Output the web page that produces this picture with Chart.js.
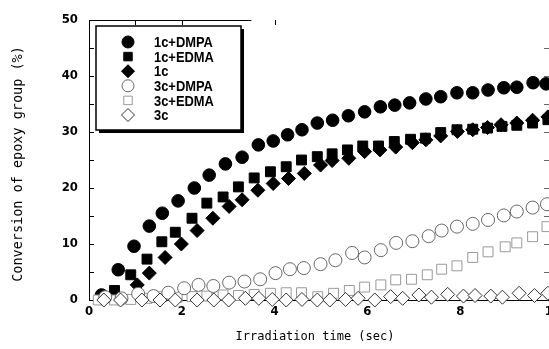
<!DOCTYPE html>
<html>
<head>
<meta charset="utf-8">
<script src="https://cdn.jsdelivr.net/npm/chart.js@4.4.0/dist/chart.umd.min.js"></script>
<style>
html,body{margin:0;padding:0;overflow:hidden;background:#fff;width:549px;height:349px;}
#wrap{position:absolute;left:0;top:0;width:570px;height:349px;}
</style>
</head>
<body>
<div id="wrap"><canvas id="c" width="570" height="349"></canvas></div>
<script>
// ---- data ----
const seriesNames = ["1c+DMPA", "1c+EDMA", "1c", "3c+DMPA", "3c+EDMA", "3c"];
const xTitle = "Irradiation time (sec)";
const yTitle = "Conversion of epoxy group (%)";
const xTicks = [0, 2, 4, 6, 8, 10];
const yTicks = [0, 10, 20, 30, 40, 50];

const time_1cDMPA = [0.27,0.63,0.97,1.30,1.58,1.92,2.27,2.59,2.94,3.30,3.65,3.97,4.28,4.59,4.92,5.25,5.59,5.94,6.28,6.59,6.91,7.26,7.58,7.93,8.27,8.60,8.94,9.22,9.57,9.85];
const conv_1cDMPA = [0.9,5.4,9.6,13.2,15.5,17.7,20.0,22.3,24.3,25.5,27.7,28.4,29.5,30.4,31.6,32.1,32.9,33.6,34.5,34.8,35.2,35.9,36.3,37.0,37.0,37.5,37.9,38.0,38.8,38.6];

const time_1cEDMA = [0.55,0.90,1.25,1.57,1.86,2.22,2.54,2.89,3.22,3.56,3.91,4.25,4.58,4.92,5.24,5.57,5.90,6.24,6.58,6.93,7.25,7.58,7.93,8.27,8.59,8.90,9.22,9.56,9.89];
const conv_1cEDMA = [1.7,4.5,7.3,10.4,12.1,14.6,17.3,18.4,20.2,21.8,22.9,23.8,25.0,25.6,26.1,26.8,27.5,27.5,28.3,28.7,28.9,29.9,30.4,30.5,30.7,31.0,31.2,31.6,32.2];

const time_1c = [1.04,1.30,1.64,1.99,2.33,2.67,3.02,3.30,3.64,3.97,4.30,4.64,4.99,5.24,5.60,5.94,6.27,6.61,6.97,7.26,7.58,7.94,8.27,8.59,8.88,9.22,9.56,9.89];
const conv_1c = [2.7,4.8,7.6,10.0,12.4,14.6,16.7,17.9,19.6,20.8,21.7,22.6,24.1,24.9,25.3,26.5,26.8,27.3,28.1,28.6,29.3,30.1,30.4,30.8,31.3,31.6,32.1,32.7];

const time_3cDMPA = [0.35,0.70,1.06,1.39,1.71,2.05,2.36,2.68,3.02,3.35,3.69,4.02,4.33,4.63,4.99,5.31,5.67,5.94,6.29,6.62,6.97,7.32,7.60,7.93,8.27,8.60,8.94,9.22,9.56,9.87];
const conv_3cDMPA = [0.5,0.3,1.1,0.7,1.3,2.1,2.7,2.5,3.1,3.3,3.7,4.8,5.5,5.7,6.4,7.1,8.4,7.6,8.9,10.2,10.5,11.4,12.4,13.1,13.6,14.3,15.1,15.8,16.5,17.1];

const time_3cEDMA = [0.20,0.55,0.90,1.25,1.57,1.90,2.22,2.54,2.89,3.22,3.56,3.91,4.25,4.58,4.93,5.27,5.61,5.94,6.29,6.61,6.95,7.29,7.60,7.93,8.27,8.60,8.97,9.22,9.56,9.87];
const conv_3cEDMA = [0.0,0.0,0.1,0.3,0.6,0.5,0.6,0.7,0.9,0.8,1.0,1.2,1.3,1.3,0.6,1.2,1.7,2.3,2.7,3.6,3.7,4.5,5.5,6.1,7.6,8.6,9.5,10.2,11.3,13.1];

const time_3c = [0.32,0.68,1.14,1.53,1.86,2.33,2.69,3.01,3.37,3.66,3.95,4.25,4.59,4.92,5.19,5.53,5.80,6.16,6.50,6.76,7.11,7.38,7.73,8.07,8.32,8.66,8.91,9.27,9.60,9.89];
const conv_3c = [0.0,0.0,0.0,0.0,0.0,0.0,0.0,0.0,0.3,0.3,0.1,0.0,0.1,0.0,0.0,0.1,0.3,0.0,0.6,0.3,0.9,0.5,1.0,0.7,0.8,0.7,0.5,1.2,0.8,1.2];

// ---- helpers ----
const pairs = (xs, ys) => xs.map((x, i) => ({x: x, y: ys[i]}));
const tickFont = {family: '"DejaVu Sans Condensed", sans-serif', weight: 'bold', size: 13};

const styles = [
  {pointStyle: 'circle',  radius: 6.3, bg: '#000', border: '#000', bw: 1, order: 3},
  {pointStyle: 'rect',    radius: 7,   bg: '#000', border: '#000', bw: 1, order: 4},
  {pointStyle: 'rectRot', radius: 7,   bg: '#000', border: '#000', bw: 1, order: 5},
  {pointStyle: 'circle',  radius: 6.5, bg: '#fff', border: '#666', bw: 1, order: 1},
  {pointStyle: 'rect',    radius: 7,   bg: '#fff', border: '#999', bw: 1, order: 2},
  {pointStyle: 'rectRot', radius: 7,   bg: '#fff', border: '#333', bw: 1, order: 0}
];
const seriesData = [
  pairs(time_1cDMPA, conv_1cDMPA),
  pairs(time_1cEDMA, conv_1cEDMA),
  pairs(time_1c, conv_1c),
  pairs(time_3cDMPA, conv_3cDMPA),
  pairs(time_3cEDMA, conv_3cEDMA),
  pairs(time_3c, conv_3c)
];

const datasets = seriesNames.map((name, i) => ({
  label: name,
  data: seriesData[i],
  showLine: false,
  pointStyle: styles[i].pointStyle,
  pointRadius: styles[i].radius,
  pointHoverRadius: styles[i].radius,
  pointBackgroundColor: styles[i].bg,
  pointBorderColor: styles[i].border,
  pointBorderWidth: styles[i].bw,
  order: styles[i].order,
  clip: false
}));

// frame details: inward ticks every 5 units on left/right, partial top border
const framePlugin = {
  id: 'frame',
  beforeDatasetsDraw(chart) {
    const {ctx, chartArea: a, scales} = chart;
    const ys = scales.y, xs = scales.x;
    ctx.save();
    ctx.lineWidth = 1;
    ctx.strokeStyle = '#000';
    for (let v = 5; v < 50; v += 5) {
      const py = Math.round(ys.getPixelForValue(v)) + 0.5;
      ctx.beginPath(); ctx.moveTo(a.left, py); ctx.lineTo(a.left + 5, py); ctx.stroke();
    }
    ctx.strokeStyle = '#666';
    for (let v = 5; v < 50; v += 5) {
      const py = Math.round(ys.getPixelForValue(v)) + 0.5;
      ctx.beginPath(); ctx.moveTo(a.right - 9, py); ctx.lineTo(a.right - 3, py); ctx.stroke();
    }
    ctx.strokeStyle = '#000';
    const ty = Math.round(a.top) + 0.5;
    ctx.beginPath(); ctx.moveTo(a.left, ty); ctx.lineTo(xs.getPixelForValue(3.5), ty); ctx.stroke();
    [1, 2, 4].forEach(v => {
      const px = Math.round(xs.getPixelForValue(v)) + 0.5;
      ctx.beginPath(); ctx.moveTo(px, a.top); ctx.lineTo(px, a.top + 5); ctx.stroke();
    });
    ctx.restore();
  }
};

// boxed legend with shadow + axis titles
const legendPlugin = {
  id: 'boxLegend',
  afterDraw(chart) {
    const ctx = chart.ctx;
    ctx.save();
    const x0 = 96, y0 = 26, w = 145, h = 104;
    ctx.fillStyle = '#000';
    ctx.fillRect(x0 + 3, y0 + 3, w, h);
    ctx.fillStyle = '#fff';
    ctx.fillRect(x0, y0, w, h);
    ctx.lineWidth = 1.5;
    ctx.strokeStyle = '#000';
    ctx.strokeRect(x0, y0, w, h);
    seriesNames.forEach((name, i) => {
      const cy = 42 + i * 14.6;
      const s = styles[i];
      ctx.fillStyle = s.bg;
      ctx.strokeStyle = s.border;
      ctx.lineWidth = s.bw;
      const r = s.pointStyle === 'circle' ? 6 : (s.pointStyle === 'rect' ? 6 : 6.5);
      Chart.helpers.drawPoint(ctx, {pointStyle: s.pointStyle, radius: r, borderWidth: s.bw, rotation: 0}, 128, cy);
      // condensed bold label
      ctx.save();
      ctx.font = 'bold 15px "Liberation Sans", Arial, sans-serif';
      ctx.textBaseline = 'middle';
      ctx.textAlign = 'left';
      ctx.fillStyle = '#000';
      ctx.translate(154, cy + 1);
      ctx.scale(0.86, 1);
      ctx.fillText(name, 0, 0);
      ctx.restore();
    });
    // axis titles
    ctx.fillStyle = '#000';
    ctx.textAlign = 'center';
    ctx.textBaseline = 'middle';
    ctx.font = '12px "DejaVu Sans Mono", monospace';
    ctx.fillText(xTitle, 315, 337);
    ctx.translate(18, 164);
    ctx.rotate(-Math.PI / 2);
    ctx.font = '13.5px "DejaVu Sans Mono", monospace';
    ctx.fillText(yTitle, 0, 0);
    ctx.restore();
  }
};

new Chart(document.getElementById('c'), {
  type: 'scatter',
  data: {datasets: datasets},
  options: {
    responsive: false,
    animation: false,
    devicePixelRatio: 1,
    layout: {padding: {top: 20, right: 17, left: 0, bottom: 0}},
    plugins: {legend: {display: false}, tooltip: {enabled: false}},
    scales: {
      x: {
        type: 'linear', min: 0, max: 10,
        afterBuildTicks: s => { s.ticks = xTicks.map(v => ({value: v})); },
        afterFit: s => { s.height = 49; },
        grid: {display: false, drawTicks: false},
        border: {display: true, color: '#000', width: 1},
        ticks: {color: '#000', font: tickFont, padding: 4, maxRotation: 0}
      },
      y: {
        type: 'linear', min: 0, max: 50,
        afterBuildTicks: s => { s.ticks = yTicks.map(v => ({value: v})); },
        afterFit: s => { s.width = 89; },
        grid: {display: false, drawTicks: false},
        border: {display: true, color: '#000', width: 1},
        ticks: {color: '#000', font: tickFont, padding: 11}
      }
    }
  },
  plugins: [framePlugin, legendPlugin]
});
</script>
</body>
</html>
